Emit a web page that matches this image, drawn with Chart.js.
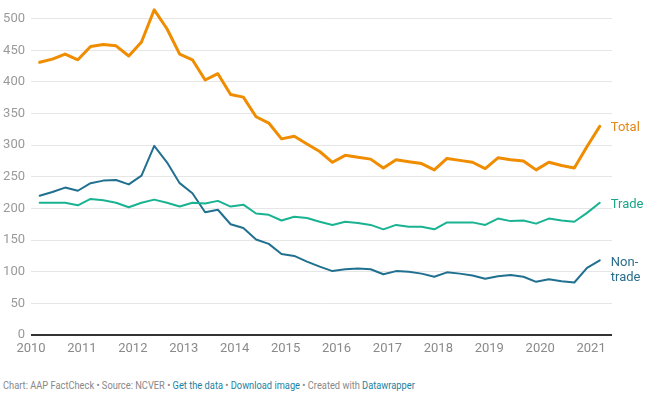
<!DOCTYPE html>
<html>
<head>
<meta charset="utf-8">
<script src="https://cdn.jsdelivr.net/npm/chart.js@4/dist/chart.umd.min.js"></script>
<style>
  body { margin: 0; background: #fff; font-family: Roboto, sans-serif; }
  #wrap { position: relative; width: 660px; height: 360px; }
  .footer { position: absolute; left: 3px; top: 379px; font-size: 11px; color: #888; white-space: nowrap;
            transform: scaleX(0.845); transform-origin: left center; }
  .footer a { color: #1d81a2; text-decoration: none; }
</style>
</head>
<body>
<div id="wrap"><canvas id="chart" width="660" height="360"></canvas></div>
<div class="footer">Chart: AAP FactCheck • Source: NCVER • <a href="#">Get the data</a> • <a href="#">Download image</a> • Created with <a href="#">Datawrapper</a></div>
<script>
// quarterly enrolments (thousands), 2010 Q1 - 2021 Q1
const periods = [
  '2010 Q1', '2010 Q2', '2010 Q3', '2010 Q4', '2011 Q1', '2011 Q2', '2011 Q3', '2011 Q4',
  '2012 Q1', '2012 Q2', '2012 Q3', '2012 Q4', '2013 Q1', '2013 Q2', '2013 Q3', '2013 Q4',
  '2014 Q1', '2014 Q2', '2014 Q3', '2014 Q4', '2015 Q1', '2015 Q2', '2015 Q3', '2015 Q4',
  '2016 Q1', '2016 Q2', '2016 Q3', '2016 Q4', '2017 Q1', '2017 Q2', '2017 Q3', '2017 Q4',
  '2018 Q1', '2018 Q2', '2018 Q3', '2018 Q4', '2019 Q1', '2019 Q2', '2019 Q3', '2019 Q4',
  '2020 Q1', '2020 Q2', '2020 Q3', '2020 Q4', '2021 Q1'
];
const total = [
  431, 436, 444, 435, 456, 459, 457, 441, 463, 514, 484, 444, 435, 403, 413, 380,
  376, 345, 335, 310, 314, 302, 290, 273, 284, 281, 278, 264, 277, 274, 271, 261,
  279, 276, 273, 263, 280, 277, 275, 261, 273, 268, 264, 298, 330
];
const trade = [
  209, 209, 209, 205, 215, 213, 209, 202, 209, 214, 209, 203, 209, 208, 212, 203,
  206, 192, 190, 181, 187, 185, 179, 174, 179, 177, 174, 167, 174, 171, 171, 167,
  178, 178, 178, 174, 184, 180, 181, 176, 184, 181, 179, 193, 209
];
const nonTrade = [
  220, 226, 233, 228, 240, 244, 245, 238, 252, 299, 273, 240, 224, 194, 198, 175,
  169, 151, 144, 128, 125, 116, 108, 101, 104, 105, 104, 96, 101, 100, 97, 92,
  99, 97, 94, 89, 93, 95, 92, 84, 88, 85, 83, 106, 118
];
const xTicks = [2010, 2011, 2012, 2013, 2014, 2015, 2016, 2017, 2018, 2019, 2020, 2021];
const yTicks = [0, 50, 100, 150, 200, 250, 300, 350, 400, 450, 500];

const colors = { total: '#f08c00', trade: '#19b392', nonTrade: '#21708f' };

// place each quarter inside its year
function toX(p) {
  const [y, q] = p.split(' Q');
  return Number(y) + (Number(q) - 1) / 4 + 0.17;
}
function pts(values) {
  return values.map((v, i) => ({ x: toX(periods[i]), y: v }));
}

const endLabels = {
  id: 'endLabels',
  afterDatasetsDraw(chart) {
    const ctx = chart.ctx;
    ctx.save();
    ctx.font = '13px Roboto, sans-serif';
    ctx.textBaseline = 'middle';
    ctx.textAlign = 'left';
    chart.data.datasets.forEach((ds, i) => {
      const meta = chart.getDatasetMeta(i);
      const last = meta.data[meta.data.length - 1];
      ctx.fillStyle = ds.labelColor;
      ds.endLabel.forEach((line, j) => {
        ctx.fillText(line, last.x + 11, last.y + 2 + j * 15.6);
      });
    });
    ctx.restore();
  }
};

new Chart(document.getElementById('chart'), {
  type: 'line',
  data: {
    datasets: [
      { label: 'Trade', endLabel: ['Trade'], labelColor: '#1aa68a', data: pts(trade),
        borderColor: colors.trade, borderWidth: 2 },
      { label: 'Non-trade', endLabel: ['Non-', 'trade'], labelColor: '#2a6d8a', data: pts(nonTrade),
        borderColor: colors.nonTrade, borderWidth: 2 },
      { label: 'Total', endLabel: ['Total'], labelColor: '#e0891c', data: pts(total),
        borderColor: colors.total, borderWidth: 3 }
    ]
  },
  options: {
    responsive: false,
    animation: false,
    elements: { point: { radius: 0 }, line: { tension: 0, borderJoinStyle: 'round', borderCapStyle: 'round' } },
    layout: { padding: { top: 6, right: 48, bottom: 0, left: 0 } },
    plugins: { legend: { display: false }, tooltip: { enabled: false } },
    scales: {
      x: {
        type: 'linear',
        min: 2010,
        max: 2021.41,
        grid: { display: false, drawTicks: false },
        border: { display: false },
        afterBuildTicks(scale) {
          scale.ticks = xTicks.map(v => ({ value: v }));
        },
        afterFit(scale) {
          scale.height = 25;
          scale.paddingLeft = 0;
          scale.paddingRight = 0;
        },
        ticks: {
          padding: 6,
          maxRotation: 0,
          autoSkip: false,
          color: '#8a8a8a',
          font: { family: 'Roboto', size: 13 },
          callback: v => String(v)
        }
      },
      y: {
        min: 0,
        max: 520,
        afterBuildTicks(scale) {
          scale.ticks = yTicks.map(v => ({ value: v }));
        },
        afterFit(scale) {
          scale.width = 31;
          scale.paddingTop = 0;
          scale.paddingBottom = 0;
        },
        border: { display: false },
        grid: {
          drawTicks: false,
          color: c => c.tick.value === 0 ? '#333' : '#e6e6e6',
          lineWidth: c => c.tick.value === 0 ? 2 : 1
        },
        ticks: {
          padding: 6,
          color: '#9a9a9a',
          font: { family: 'Roboto', size: 13 },
          callback: v => String(v)
        }
      }
    }
  },
  plugins: [endLabels]
});
</script>
</body>
</html>
